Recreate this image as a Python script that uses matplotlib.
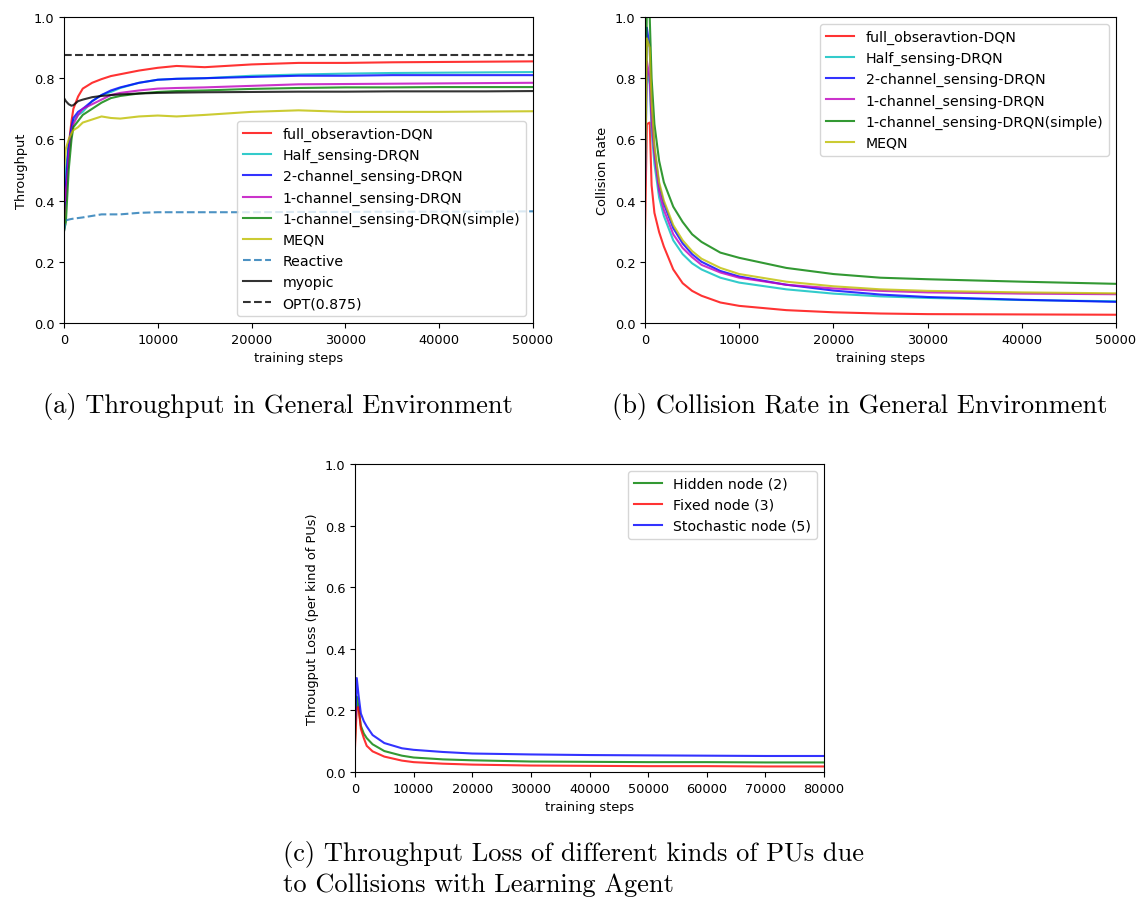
import numpy as np
import matplotlib
matplotlib.use('Agg')
import matplotlib.pyplot as plt

# === data ===
# (a) throughput
steps_a = [0, 200, 500, 800, 1000, 1500, 2000, 3000, 4000, 5000, 6000, 8000,
           10000, 12000, 15000, 20000, 25000, 30000, 35000, 40000, 45000, 50000]
full_obs_a = [0.30, 0.45, 0.58, 0.66, 0.70, 0.74, 0.766, 0.785, 0.797, 0.807, 0.813, 0.825,
              0.834, 0.840, 0.836, 0.845, 0.850, 0.850, 0.852, 0.853, 0.854, 0.855]
half_a = [0.45, 0.50, 0.58, 0.63, 0.66, 0.68, 0.69, 0.725, 0.745, 0.755, 0.768, 0.785,
          0.795, 0.798, 0.800, 0.808, 0.812, 0.815, 0.817, 0.818, 0.819, 0.820]
two_ch_a = [0.35, 0.45, 0.58, 0.64, 0.67, 0.69, 0.70, 0.725, 0.745, 0.760, 0.770, 0.785,
            0.795, 0.798, 0.800, 0.804, 0.808, 0.808, 0.810, 0.810, 0.810, 0.810]
one_ch_a = [0.45, 0.40, 0.55, 0.62, 0.65, 0.68, 0.70, 0.715, 0.730, 0.745, 0.752, 0.760,
            0.766, 0.768, 0.770, 0.775, 0.780, 0.781, 0.782, 0.783, 0.784, 0.785]
one_ch_s_a = [0.30, 0.33, 0.50, 0.60, 0.64, 0.66, 0.68, 0.700, 0.720, 0.735, 0.742, 0.750,
              0.755, 0.758, 0.760, 0.765, 0.768, 0.770, 0.770, 0.771, 0.771, 0.771]
meqn_a = [0.50, 0.57, 0.60, 0.62, 0.63, 0.64, 0.655, 0.665, 0.675, 0.670, 0.668, 0.675,
          0.678, 0.675, 0.680, 0.690, 0.695, 0.690, 0.690, 0.690, 0.691, 0.692]
reactive_a = [0.30, 0.335, 0.338, 0.340, 0.341, 0.343, 0.345, 0.350, 0.355, 0.355, 0.355, 0.360,
              0.362, 0.362, 0.362, 0.362, 0.363, 0.363, 0.364, 0.364, 0.364, 0.365]
myopic_a = [0.735, 0.725, 0.715, 0.710, 0.712, 0.725, 0.730, 0.738, 0.742, 0.745, 0.747, 0.750,
            0.752, 0.753, 0.754, 0.755, 0.756, 0.756, 0.757, 0.757, 0.757, 0.758]
opt_value = 0.875

# (b) collision rate
steps_b = [0, 200, 500, 700, 1000, 1500, 2000, 3000, 4000, 5000, 6000, 8000,
           10000, 15000, 20000, 25000, 30000, 40000, 50000]
full_obs_b = [0.30, 0.650, 0.655, 0.45, 0.36, 0.297, 0.25, 0.175, 0.130, 0.105, 0.089, 0.067,
              0.056, 0.042, 0.035, 0.031, 0.029, 0.028, 0.027]
half_b = [0.45, 0.83, 0.78, 0.63, 0.52, 0.41, 0.35, 0.27, 0.225, 0.195, 0.175, 0.148,
          0.132, 0.110, 0.096, 0.087, 0.082, 0.075, 0.071]
two_ch_b = [0.50, 0.965, 0.90, 0.70, 0.57, 0.45, 0.39, 0.31, 0.260, 0.225, 0.200, 0.170,
            0.152, 0.125, 0.106, 0.093, 0.085, 0.076, 0.069]
one_ch_b = [0.45, 0.855, 0.80, 0.66, 0.55, 0.43, 0.37, 0.29, 0.245, 0.215, 0.190, 0.165,
            0.148, 0.125, 0.113, 0.105, 0.100, 0.096, 0.094]
one_ch_s_b = [0.50, 1.05, 1.00, 0.80, 0.65, 0.53, 0.46, 0.38, 0.330, 0.290, 0.265, 0.230,
              0.213, 0.180, 0.160, 0.148, 0.143, 0.135, 0.128]
meqn_b = [0.50, 0.93, 0.90, 0.72, 0.58, 0.46, 0.40, 0.32, 0.270, 0.235, 0.210, 0.180,
          0.160, 0.135, 0.120, 0.110, 0.105, 0.100, 0.097]

# (c) throughput loss per kind of PU
steps_c = [0, 300, 600, 1000, 1500, 2000, 3000, 5000, 8000, 10000, 15000, 20000,
           30000, 40000, 50000, 60000, 70000, 80000]
hidden_c = [0.10, 0.245, 0.21, 0.150, 0.125, 0.110, 0.090, 0.068, 0.053, 0.047, 0.041, 0.038,
            0.034, 0.033, 0.032, 0.032, 0.031, 0.031]
fixed_c = [0.08, 0.210, 0.21, 0.140, 0.110, 0.085, 0.067, 0.050, 0.037, 0.032, 0.027, 0.024,
           0.021, 0.020, 0.019, 0.019, 0.018, 0.018]
stoch_c = [0.15, 0.305, 0.25, 0.190, 0.165, 0.148, 0.120, 0.094, 0.077, 0.072, 0.065, 0.060,
           0.057, 0.055, 0.054, 0.053, 0.052, 0.052]

labels_ab = ['full_obseravtion-DQN', 'Half_sensing-DRQN', '2-channel_sensing-DRQN',
             '1-channel_sensing-DRQN', '1-channel_sensing-DRQN(simple)', 'MEQN']
colors_ab = ['r', 'c', 'b', 'm', 'g', 'y']
labels_c = ['Hidden node (2)', 'Fixed node (3)', 'Stochastic node (5)']

# === figure ===
W, H = 1143, 903
fig = plt.figure(figsize=(W / 100, H / 100), dpi=100)
fs = 9.3
leg_fs = 10.2
plt.rcParams['font.size'] = fs


def px_axes(l, t, r, b):
    return fig.add_axes([l / W, 1 - b / H, (r - l) / W, (b - t) / H])


lw = 1.5
al = 0.8

# (a)
ax = px_axes(64, 18, 533, 324)
for ys, lab, c in zip([full_obs_a, half_a, two_ch_a, one_ch_a, one_ch_s_a, meqn_a], labels_ab, colors_ab):
    ax.plot(steps_a, ys, color=c, lw=lw, alpha=al, label=lab)
ax.plot(steps_a, reactive_a, '--', color='#1f77b4', lw=lw, alpha=al, label='Reactive')
ax.plot(steps_a, myopic_a, color='k', lw=lw, alpha=al, label='myopic')
ax.plot([0, 50000], [opt_value, opt_value], '--', color='k', lw=lw, alpha=al, label='OPT(0.875)')
ax.set_xlim(0, 50000)
ax.set_ylim(0, 1)
ax.set_xlabel('training steps', fontsize=fs)
ax.set_ylabel('Throughput', fontsize=fs)
ax.legend(loc='lower right', fontsize=leg_fs)
ax.tick_params(labelsize=fs)

# (b)
ax = px_axes(645, 18, 1116, 324)
for ys, lab, c in zip([full_obs_b, half_b, two_ch_b, one_ch_b, one_ch_s_b, meqn_b], labels_ab, colors_ab):
    ax.plot(steps_b, ys, color=c, lw=lw, alpha=al, label=lab)
ax.set_xlim(0, 50000)
ax.set_ylim(0, 1)
ax.set_xlabel('training steps', fontsize=fs)
ax.set_ylabel('Collision Rate', fontsize=fs)
ax.legend(loc='upper right', fontsize=leg_fs)
ax.tick_params(labelsize=fs)

# (c)
ax = px_axes(355, 465, 824, 773)
for ys, lab, c in zip([hidden_c, fixed_c, stoch_c], labels_c, ['g', 'r', 'b']):
    ax.plot(steps_c, ys, color=c, lw=lw, alpha=al, label=lab)
ax.set_xlim(0, 80000)
ax.set_ylim(0, 1)
ax.set_xlabel('training steps', fontsize=fs)
ax.set_ylabel('Througput Loss (per kind of PUs)', fontsize=fs)
ax.legend(loc='upper right', fontsize=leg_fs)
ax.tick_params(labelsize=fs)

# captions
cap = dict(fontfamily='cmr10', fontsize=19, va='center', ha='left')
fig.text(43 / W, 1 - 407 / H, '(a) Throughput in General Environment', **cap)
fig.text(612 / W, 1 - 407 / H, '(b) Collision Rate in General Environment', **cap)
fig.text(283 / W, 1 - 855 / H, '(c) Throughput Loss of different kinds of PUs due', **cap)
fig.text(283 / W, 1 - 885 / H, 'to Collisions with Learning Agent', **cap)

fig.savefig('out.png', dpi=100)
